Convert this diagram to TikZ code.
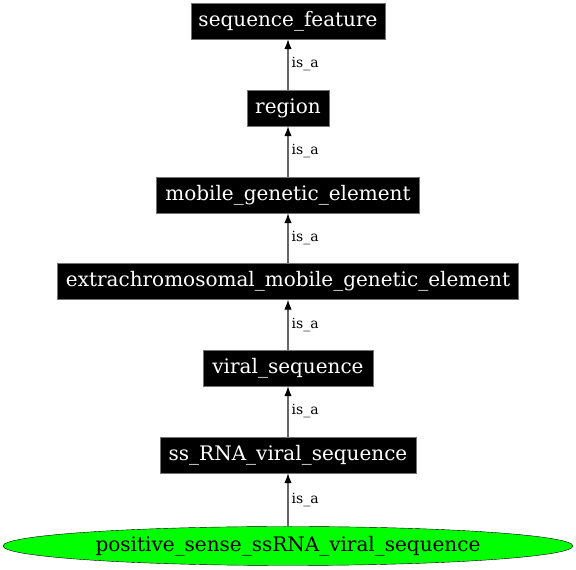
\documentclass[tikz,border=0pt]{standalone}
\usepackage{fontspec}
\setmainfont{DejaVu Serif}
\usetikzlibrary{arrows.meta}
\usetikzlibrary{shapes.geometric}

\begin{document}
\begin{tikzpicture}[x=1pt, y=1pt, isa/.style={draw=black!60, line width=1.2pt, -{Latex[length=10pt,width=7.5pt,black]}}]
\tikzset{term/.style={rectangle,fill=black,draw=black!55,text=white,font=\fontsize{20}{22}\selectfont,inner sep=0pt,minimum height=36pt,minimum width=#1}}
\tikzset{lbl/.style={font=\fontsize{14}{16}\selectfont,inner sep=3pt}}
\useasboundingbox (0,0) rectangle (576,570);

% ontology terms, top to bottom
\coordinate (c1) at (288,549);
\coordinate (c2) at (288,462);
\coordinate (c3) at (288,375);
\coordinate (c4) at (288,288.5);
\coordinate (c5) at (288,202);
\coordinate (c6) at (288,115);
\coordinate (c7) at (288,24);

\node[term=194pt] (sf) at (c1) {sequence\_feature};
\node[term=82pt] (reg) at (c2) {region};
\node[term=263pt] (mge) at (c3) {mobile\_genetic\_element};
\node[term=461pt] (emge) at (c4) {extrachromosomal\_mobile\_genetic\_element};
\node[term=170pt] (vs) at (c5) {viral\_sequence};
\node[term=256pt] (ssrna) at (c6) {ss\_RNA\_viral\_sequence};

% the term itself
\node[ellipse,draw=black,fill=green,inner sep=0pt,minimum width=570pt,minimum height=39pt,font=\fontsize{20}{22}\selectfont] (pss) at (c7) {positive\_sense\_ssRNA\_viral\_sequence};

\draw[isa] (reg) -- node[lbl,right] {is\_a} (sf);
\draw[isa] (mge) -- node[lbl,right] {is\_a} (reg);
\draw[isa] (emge) -- node[lbl,right] {is\_a} (mge);
\draw[isa] (vs) -- node[lbl,right] {is\_a} (emge);
\draw[isa] (ssrna) -- node[lbl,right] {is\_a} (vs);
\draw[isa] (pss) -- node[lbl,right] {is\_a} (ssrna);

\end{tikzpicture}
\end{document}
